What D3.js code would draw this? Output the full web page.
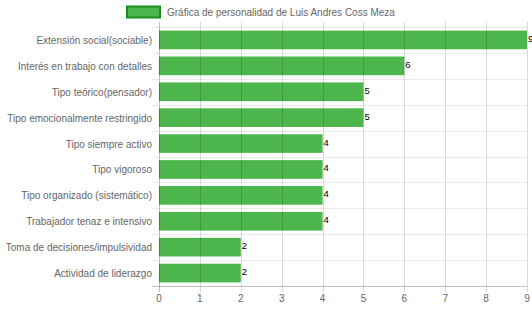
<!DOCTYPE html>
<html><head><meta charset="utf-8">
<script src="https://cdn.jsdelivr.net/npm/d3@7"></script>
<style>body{margin:0;background:#fff}svg{display:block}text{font-family:"Liberation Sans",Arial,sans-serif}</style>
</head><body>
<svg id="c" width="532" height="310"></svg>
<script>
const categories = ["Extensión social(sociable)","Interés en trabajo con detalles","Tipo teórico(pensador)","Tipo emocionalmente restringido","Tipo siempre activo","Tipo vigoroso","Tipo organizado (sistemático)","Trabajador tenaz e intensivo","Toma de decisiones/impulsividad","Actividad de liderazgo"];
const values = [9,6,5,5,4,4,4,4,2,2];
const xTicks = [0,1,2,3,4,5,6,7,8,9];
const seriesName = "Gráfica de personalidad de Luis Andres Coss Meza";

const svg = d3.select("#c");
const m = {l:159, r:5, t:27, b:24};
const W = 532, H = 310;
const x = d3.scaleLinear().domain([0,9]).range([m.l, W-m.r]);
const y = d3.scaleBand().domain(categories).range([m.t, H-m.b]);
const barH = y.bandwidth()*0.72;

// horizontal grid
const hLines = d3.range(categories.length+1).map(i => m.t + i*y.step());
svg.append("g").selectAll("line").data(hLines).join("line")
  .attr("x1", m.l-7).attr("x2", W-m.r)
  .attr("y1", d=>Math.round(d)+0.5).attr("y2", d=>Math.round(d)+0.5)
  .attr("stroke", (d,i)=> i===categories.length ? "rgba(0,0,0,0.25)" : "rgba(0,0,0,0.08)");

// bars
svg.append("g").selectAll("rect").data(values).join("rect")
  .attr("x", x(0)).attr("width", d=>x(d)-x(0))
  .attr("y", (d,i)=>y(categories[i]) + (y.bandwidth()-barH)/2)
  .attr("height", barH)
  .attr("fill", "#4cb54c");

// vertical grid (over bars)
svg.append("g").selectAll("line").data(xTicks).join("line")
  .attr("x1", d=>Math.round(x(d))+0.5).attr("x2", d=>Math.round(x(d))+0.5)
  .attr("y1", m.t-5).attr("y2", H-m.b+6)
  .attr("stroke", (d,i)=> i===0 ? "rgba(0,0,0,0.25)" : "rgba(0,0,0,0.15)");

// x tick labels
svg.append("g").selectAll("text").data(xTicks).join("text")
  .attr("x", d=>x(d)).attr("y", H-m.b+16)
  .attr("text-anchor","middle").attr("font-size",10).attr("fill","#666")
  .text(d=>d);

// category labels
svg.append("g").selectAll("text").data(categories).join("text")
  .attr("x", m.l-7).attr("y", d=>y(d)+y.bandwidth()/2+4)
  .attr("text-anchor","end").attr("font-size",10).attr("fill","#666")
  .text(d=>d);

// value labels
svg.append("g").selectAll("text").data(values).join("text")
  .attr("x", d=>x(d)+1).attr("y", (d,i)=>y(categories[i])+y.bandwidth()/2+2)
  .attr("font-size",9.5).attr("fill","#000")
  .text(d=>d);

// legend
const lg = svg.append("g");
lg.append("rect").attr("x",127).attr("y",6.5).attr("width",33).attr("height",11)
  .attr("fill","#4cb54c").attr("stroke","#1f8c1f").attr("stroke-width",2);
lg.append("text").attr("x",167).attr("y",15.5).attr("font-size",10).attr("fill","#666").text(seriesName);
</script>
</body></html>
